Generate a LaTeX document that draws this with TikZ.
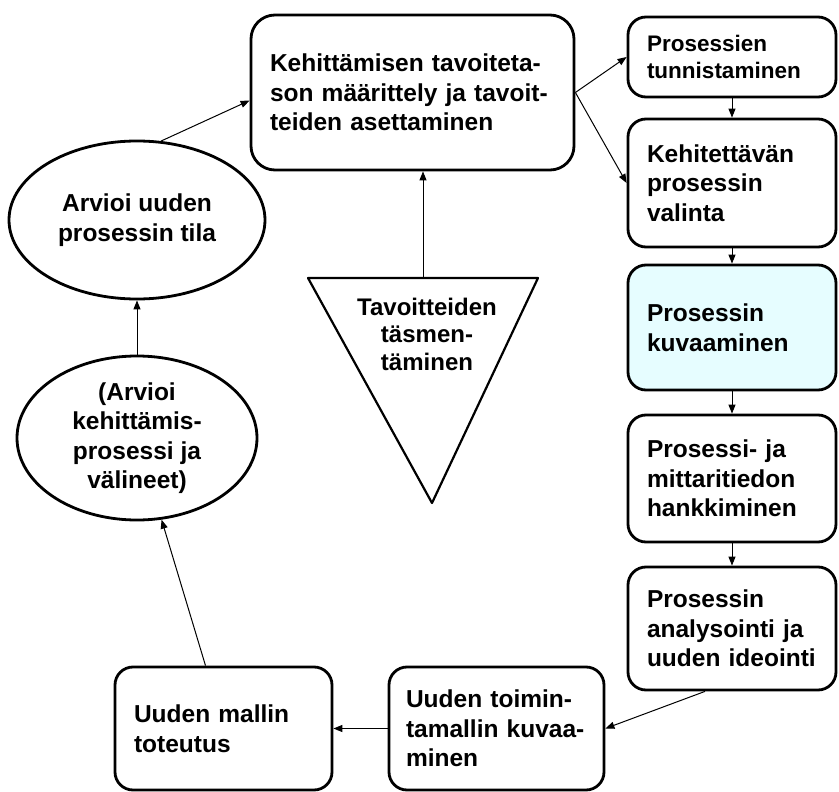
\documentclass[tikz,border=0pt]{standalone}
\usepackage{fontspec}
\setmainfont{Liberation Sans}
\usetikzlibrary{arrows.meta,shapes.geometric}
\definecolor{kuvafill}{RGB}{230,253,255}

\begin{document}
\begin{tikzpicture}[x=1pt,y=-1pt,
    proc/.style={draw,line width=2.8pt,rounded corners=18pt,inner xsep=19pt,inner ysep=0pt,
    align=left,font=\bfseries\fontsize{24.5}{29.5}\selectfont},
    arvio/.style={draw,ellipse,line width=2.8pt,inner sep=0pt,align=center,
    font=\bfseries\fontsize{24.5}{29.5}\selectfont},
    arr/.style={line width=1pt,-{Triangle[length=9pt,width=7pt]}}
    ]
    \useasboundingbox (0,0) rectangle (839,792);
    \def\tw{170}  % text width, right column
    \def\xr{732}  % right column x

    % top and right column
    \node[proc,text width=285,minimum height=155,rounded corners=24pt] (tavoite) at (412.5,92.5)
        {Kehittämisen tavoiteta-\\son määrittely ja tavoit-\\teiden asettaminen};
    \node[proc,text width=\tw,minimum height=80,font=\bfseries\fontsize{22.5}{27}\selectfont] (tunnist) at (\xr,57)
        {Prosessien\\tunnistaminen};
    \node[proc,text width=\tw,minimum height=128] (valinta) at (\xr,183)
        {Kehitettävän\\prosessin\\valinta};
    \node[proc,text width=\tw,minimum height=125,fill=kuvafill] (kuvaus) at (\xr,327.5)
        {Prosessin\\kuvaaminen};
    \node[proc,text width=\tw,minimum height=127] (mittari) at (\xr,478.5)
        {Prosessi- ja\\mittaritiedon\\hankkiminen};
    \node[proc,text width=\tw,minimum height=123] (analyysi) at (\xr,628.5)
        {Prosessin\\analysointi ja\\uuden ideointi};

    % bottom row
    \node[proc,text width=181,inner xsep=17pt,minimum height=123] (malli) at (496.5,728.5)
        {Uuden toimin-\\tamallin kuvaa-\\minen};
    \node[proc,text width=179,minimum height=123] (toteutus) at (223.5,728.5)
        {Uuden mallin\\toteutus};

    % left column
    \node[arvio,minimum width=256,minimum height=158] (tila) at (137,220)
        {Arvioi uuden\\prosessin tila};
    \node[arvio,minimum width=240,minimum height=164] (kehitys) at (137,438)
        {(Arvioi\\kehittämis-\\prosessi ja\\välineet)};

    % triangle
    \coordinate (tritop) at (423,278);
    \draw[line width=2.2pt,line join=round] (308,278) -- (538,278) -- (432,503) -- cycle;
    \node[align=center,font=\bfseries\fontsize{24}{27.5}\selectfont] (tarkennus) at (427,334)
        {Tavoitteiden\\täsmen-\\täminen};

    % connectors
    \draw[arr] (tavoite.east) -- (tunnist.west);
    \draw[arr] (tavoite.east) -- (valinta.west);
    \foreach \a/\b in {tunnist/valinta,valinta/kuvaus,kuvaus/mittari,mittari/analyysi}
        \draw[arr] (\a) -- (\b);
    \draw[arr] ([xshift=-27pt]analyysi.south) -- (malli.east);
    \draw[arr] (malli) -- (toteutus);
    \draw[arr] ([xshift=-18pt]toteutus.north) -- (kehitys);
    \draw[arr] (kehitys) -- (tila);
    \draw[arr] (tila.73) -- ([yshift=-8pt]tavoite.west);
    \draw[arr] (tritop) -- (tritop |- tavoite.south);
\end{tikzpicture}
\end{document}
